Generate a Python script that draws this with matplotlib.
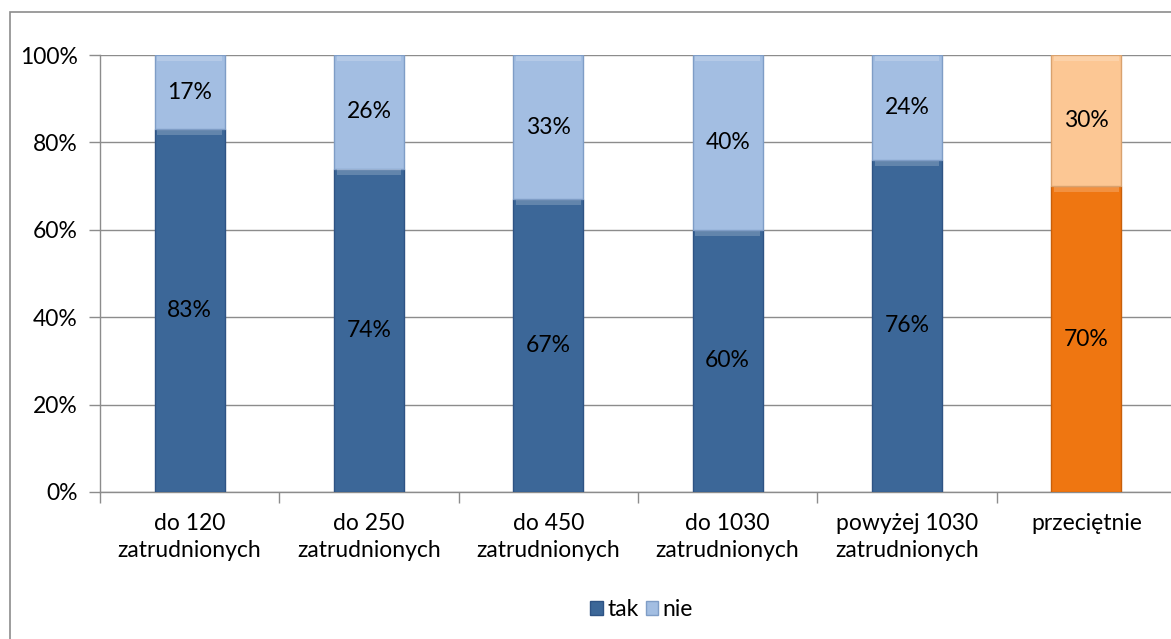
import numpy as np
import matplotlib.pyplot as plt
from matplotlib.patches import Rectangle

categories = ['do 120\nzatrudnionych', 'do 250\nzatrudnionych', 'do 450\nzatrudnionych',
              'do 1030\nzatrudnionych', 'powyżej 1030\nzatrudnionych', 'przeciętnie']
tak = [83, 74, 67, 60, 76, 70]
nie = [17, 26, 33, 40, 24, 30]

tak_colors = ['#3C6798'] * 5 + ['#EF7611']
nie_colors = ['#A3BEE2'] * 5 + ['#FCC794']
tak_edge = ['#2E5384'] * 5 + ['#C85F0A']
nie_edge = ['#7F9DC6'] * 5 + ['#D9A26E']

plt.rcParams['font.family'] = ['Lato', 'DejaVu Sans']
fs = 16.5

fig = plt.figure(figsize=(11.71, 6.39), dpi=100)
ax = fig.add_axes([100 / 1171, 1 - 492 / 639, 1076 / 1171, 437 / 639])

x = np.arange(len(categories))
w = 0.39
ax.bar(x, tak, w, color=tak_colors, edgecolor=tak_edge, linewidth=1.0, zorder=3, label='tak')
ax.bar(x, nie, w, bottom=tak, color=nie_colors, edgecolor=nie_edge, linewidth=1.0, zorder=3, label='nie')

# light bevel strip at the top of each segment
for i in range(len(x)):
    ax.bar(x[i], 1.2, w * 0.92, bottom=tak[i] - 1.4, color='white', alpha=0.2, linewidth=0, zorder=4)
    ax.bar(x[i], 1.2, w * 0.92, bottom=100 - 1.4, color='white', alpha=0.2, linewidth=0, zorder=4)

for i in range(len(x)):
    ax.text(x[i], tak[i] / 2, f'{tak[i]}%', ha='center', va='center', fontsize=fs, zorder=5)
    ax.text(x[i], tak[i] + nie[i] / 2, f'{nie[i]}%', ha='center', va='center', fontsize=fs, zorder=5)

ax.set_xlim(-0.5, len(categories) - 0.5)
ax.set_ylim(0, 100)
ax.set_yticks(range(0, 101, 20))
ax.set_yticklabels([f'{v}%' for v in range(0, 101, 20)], fontsize=fs)
ax.yaxis.grid(True, color='#8C8C8C', linewidth=1.0, zorder=0)

ax.set_xticks(x)
ax.set_xticklabels(categories, fontsize=fs, linespacing=1.35)
ax.tick_params(axis='x', length=0, pad=15)
ax.set_xticks(np.arange(-0.5, len(categories), 1), minor=True)
ax.tick_params(axis='x', which='minor', length=8, color='#8C8C8C', width=1)
ax.tick_params(axis='y', length=8, color='#8C8C8C', width=1, pad=8)

for s in ['top', 'right']:
    ax.spines[s].set_visible(False)
for s in ['left', 'bottom']:
    ax.spines[s].set_color('#8C8C8C')
    ax.spines[s].set_linewidth(1.0)

leg = fig.legend(loc='center', bbox_to_anchor=(0.548, 1 - 610 / 639), ncol=2, frameon=False,
                 fontsize=fs, handlelength=0.55, handleheight=0.55, handletextpad=0.2, columnspacing=0.3)

fig.patches.append(Rectangle((10 / 1171, -0.01), 1.0, 1 - 12 / 639 + 0.01, transform=fig.transFigure,
                             fill=False, edgecolor='#8C8C8C', linewidth=1.2))

fig.savefig('out.png', dpi=100)
